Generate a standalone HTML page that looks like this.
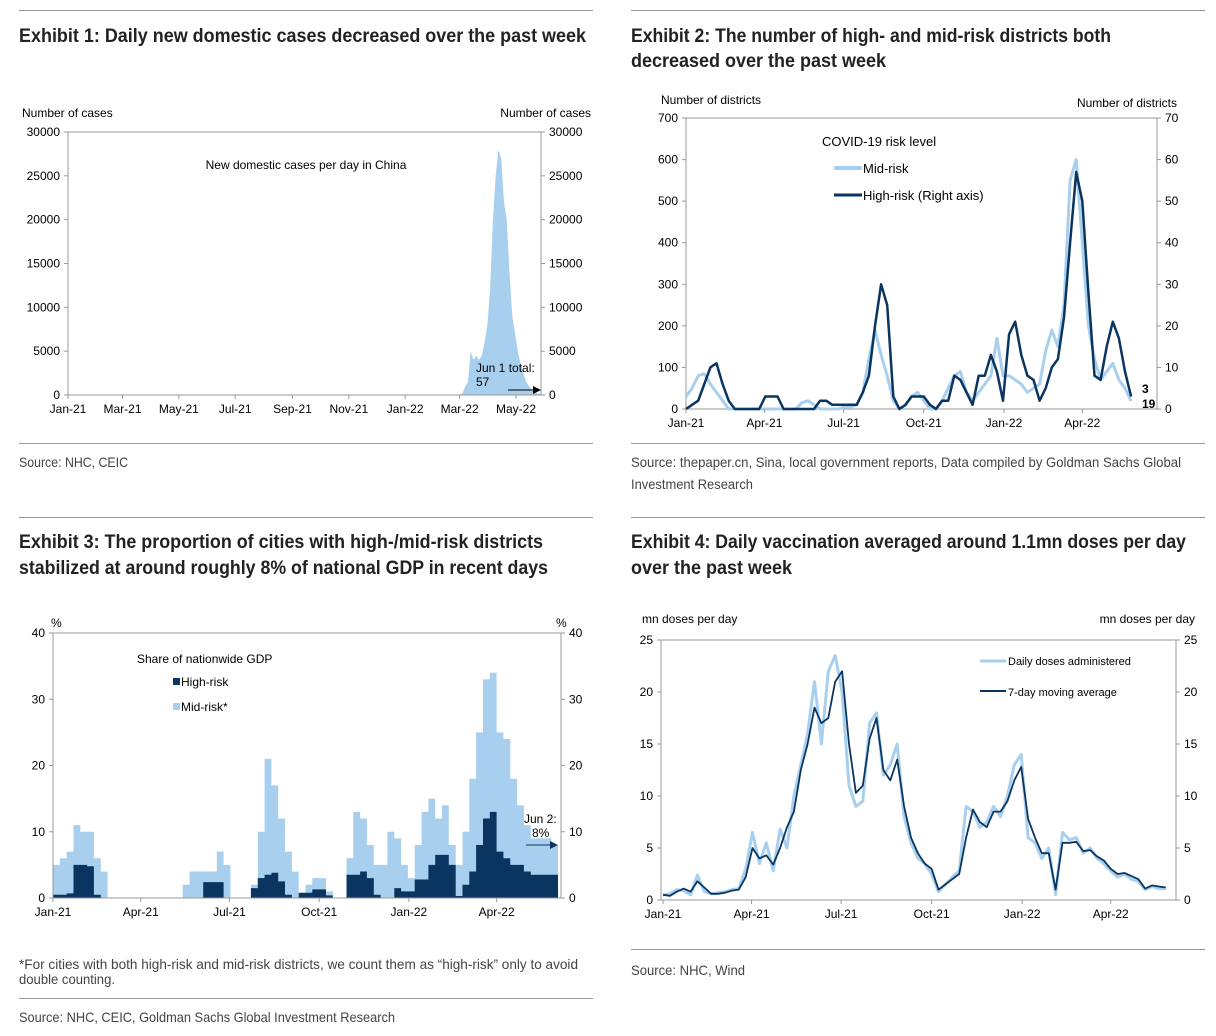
<!DOCTYPE html>
<html><head><meta charset="utf-8"><style>
body{margin:0;background:#fff;width:1216px;height:1036px;overflow:hidden}
svg{display:block}
text{font-family:"Liberation Sans",sans-serif;fill:#000}
.t{font-family:"Liberation Sans Narrow","Liberation Sans",sans-serif;font-weight:bold;font-size:19px;fill:#222}
.s{font-family:"Liberation Sans Narrow","Liberation Sans",sans-serif;font-size:14px;fill:#444}
</style></head><body>
<svg id="svg" width="1216" height="1036" xmlns="http://www.w3.org/2000/svg">
<g stroke="#999" stroke-width="1">
<line x1="19" y1="10.5" x2="593" y2="10.5"/><line x1="631" y1="10.5" x2="1205" y2="10.5"/>
<line x1="19" y1="443.5" x2="593" y2="443.5"/><line x1="631" y1="443.5" x2="1205" y2="443.5"/>
<line x1="19" y1="517.5" x2="593" y2="517.5"/><line x1="631" y1="517.5" x2="1205" y2="517.5"/>
<line x1="19" y1="998.5" x2="593" y2="998.5"/><line x1="631" y1="949.5" x2="1205" y2="949.5"/>
</g>
<text class="t" x="19" y="42" textLength="567" lengthAdjust="spacingAndGlyphs">Exhibit 1: Daily new domestic cases decreased over the past week</text>
<text class="t" x="631" y="42" textLength="480" lengthAdjust="spacingAndGlyphs">Exhibit 2: The number of high- and mid-risk districts both</text>
<text class="t" x="631" y="67" textLength="255" lengthAdjust="spacingAndGlyphs">decreased over the past week</text>
<text class="t" x="19" y="548" textLength="524" lengthAdjust="spacingAndGlyphs">Exhibit 3: The proportion of cities with high-/mid-risk districts</text>
<text class="t" x="19" y="574" textLength="529" lengthAdjust="spacingAndGlyphs">stabilized at around roughly 8% of national GDP in recent days</text>
<text class="t" x="631" y="548" textLength="555" lengthAdjust="spacingAndGlyphs">Exhibit 4: Daily vaccination averaged around 1.1mn doses per day</text>
<text class="t" x="631" y="574" textLength="161" lengthAdjust="spacingAndGlyphs">over the past week</text>
<text class="s" x="19" y="467" textLength="109" lengthAdjust="spacingAndGlyphs">Source: NHC, CEIC</text>
<text class="s" x="631" y="467" textLength="550" lengthAdjust="spacingAndGlyphs">Source: thepaper.cn, Sina, local government reports, Data compiled by Goldman Sachs Global</text>
<text class="s" x="631" y="489" textLength="122" lengthAdjust="spacingAndGlyphs">Investment Research</text>
<text class="s" x="19" y="969" textLength="559" lengthAdjust="spacingAndGlyphs">*For cities with both high-risk and mid-risk districts, we count them as “high-risk” only to avoid</text>
<text class="s" x="19" y="984" textLength="96" lengthAdjust="spacingAndGlyphs">double counting.</text>
<text class="s" x="19" y="1022" textLength="376" lengthAdjust="spacingAndGlyphs">Source: NHC, CEIC, Goldman Sachs Global Investment Research</text>
<text class="s" x="631" y="975" textLength="114" lengthAdjust="spacingAndGlyphs">Source: NHC, Wind</text>
</svg>
<script>
// Chart 1: daily cases, every 3 days from Mar 1 2022 (day 424)
const c1Start = 424;
const c1Step = 3;
const c1Cases = [0,200,1000,1500,5000,4000,4500,4000,4500,6000,8000,12000,20000,25000,28000,27000,22000,20000,14000,9000,7000,5000,3500,2500,1500,1000,600,400,200,120,80,57];
const c1Ticks = [0,5000,10000,15000,20000,25000,30000];
const c1MonthDays = [0,59,120,181,243,304,365,424,485];
const c1MonthLabels = ["Jan-21","Mar-21","May-21","Jul-21","Sep-21","Nov-21","Jan-22","Mar-22","May-22"];
// Chart 2: weekly
const c2Mid = [30,50,80,85,60,40,20,0,0,0,0,0,0,0,0,0,0,0,0,15,20,10,0,0,0,0,5,5,10,40,120,190,130,80,20,0,10,30,40,20,0,0,20,50,80,90,40,20,40,60,80,170,80,80,70,60,40,50,60,140,190,150,250,550,600,400,200,120,70,90,110,70,50,19];
const c2High = [0,1,2,6,10,11,6,2,0,0,0,0,0,3,3,3,0,0,0,0,0,0,2,2,1,1,1,1,1,4,8,20,30,25,3,0,1,3,3,3,1,0,2,2,8,7,4,1,8,8,13,9,2,18,21,13,8,7,2,5,10,12,22,40,57,50,28,8,7,15,21,17,9,3];
const c2LeftTicks = [0,100,200,300,400,500,600,700];
const c2RightTicks = [0,10,20,30,40,50,60,70];
const c2MonthDays = [0,90,181,273,365,455];
const c2MonthLabels = ["Jan-21","Apr-21","Jul-21","Oct-21","Jan-22","Apr-22"];
// Chart 3: weekly
const c3Total = [5,6,7,11,10,10,6,4,0,0,0,0,0,0,0,0,0,0,0,2,4,4,4,4,7,5,0,0,0,2,10,21,17,12,7,4,0,2,3,3,1,0,0,6,13,12,8,5,5,10,9,5,3,8,13,15,12,14,8,5,10,18,25,33,34,25,24,18,14,11,9,9,9,8];
const c3High = [0.5,0.5,0.7,5,5,4.8,0.5,0,0,0,0,0,0,0,0,0,0,0,0,0,0,0,2.4,2.4,2.4,0,0,0,0,1.5,3,3.5,3.8,2.5,0.5,0,0.8,0.8,1.3,1.3,0.4,0,0,3.5,3.5,4,3,0.5,0,0,1.5,1,1,2.8,2.8,5,6.5,6.5,5,0.3,2,4,8,12,13,7,6,5,5,4,3.5,3.5,3.5,3.5];
const c3Ticks = [0,10,20,30,40];
const c3MonthDays = [0,90,181,273,365,455];
const c3MonthLabels = ["Jan-21","Apr-21","Jul-21","Oct-21","Jan-22","Apr-22"];
// Chart 4: weekly
const c4MA = [0.5,0.4,0.8,1.1,0.8,1.8,1.2,0.6,0.6,0.7,0.9,1.0,2.2,5.0,4.0,4.3,3.4,5.0,7.0,8.5,12.5,15,18.5,17,17.5,21,22,15,10.3,11,15.5,17.5,12.5,11.5,13.5,9,6,4.5,3.5,3,1,1.5,2,2.5,6,8.7,7.5,7,8.5,8.5,9.5,11.5,12.8,7.8,6,4.5,4.5,1,5.5,5.5,5.6,4.7,4.8,4.2,3.8,3.0,2.5,2.6,2.3,2.0,1.1,1.4,1.3,1.2];
const c4Daily = [0.5,0.6,1,0.9,0.5,2.4,0.8,0.6,0.7,0.8,1,1.1,3,6.5,3.5,5.5,2.8,6.8,5,10,13,16,21,15,22,23.5,20,11,9,9.5,17,18,12,13,15,8,5.5,4,3.5,2.5,0.8,1.5,2.2,2.8,9,8.5,7,7.5,9,8,10,13,14,6,5.5,4,5,0.5,6.5,5.8,6,4.5,5,4,3.5,2.8,2.2,2.5,2,1.8,1,1.3,1.1,1.1];
const c4Ticks = [0,5,10,15,20,25];
const c4MonthDays = [0,90,181,273,365,455];
const c4MonthLabels = ["Jan-21","Apr-21","Jul-21","Oct-21","Jan-22","Apr-22"];

const NS="http://www.w3.org/2000/svg";
const svg=document.getElementById('svg');
function mk(tag,attrs,parent){const e=document.createElementNS(NS,tag);for(const k in attrs)e.setAttribute(k,attrs[k]);(parent||svg).appendChild(e);return e;}
function txt(s,x,y,anchor,parent,size,fill){const e=mk('text',{x:x,y:y,'text-anchor':anchor||'start','font-size':size||12},parent);if(fill)e.setAttribute('fill',fill);e.textContent=s;return e;}
const LIGHT="#a8d0ee", DARK="#0b3561";

function frame(g,L,R,T,B){
  mk('rect',{x:L,y:T,width:R-L,height:B-T,fill:'none',stroke:'#999','stroke-width':1},g);
}
function yAxes(g,ticks,L,R,yf,rightTicks,yr){
  ticks.forEach(v=>{const t=txt(String(v),L-8,yf(v)+4,'end',g);
    
    
    mk('line',{x1:L-4,x2:L,y1:yf(v),y2:yf(v),stroke:'#999'},g);});
  (rightTicks||ticks).forEach(v=>{const t=txt(String(v),R+8,(yr||yf)(v)+4,'start',g);
    
    
    mk('line',{x1:R,x2:R+4,y1:(yr||yf)(v),y2:(yr||yf)(v),stroke:'#999'},g);});
}
function xAxis(g,days,labels,xf,B){
  days.forEach((d,i)=>{const t=txt(labels[i],xf(d),B+18,'middle',g);
    
    
    mk('line',{x1:xf(d),x2:xf(d),y1:B,y2:B+4,stroke:'#999'},g);});
}
function linePath(vals,xf,yf){return vals.map((v,i)=>(i?'L':'M')+xf(i*7).toFixed(1)+' '+yf(v).toFixed(1)).join(' ');}
function stepArea(vals,xf,yf,B){let p='M'+xf(0)+' '+B;vals.forEach((v,i)=>{p+=' L'+xf(i*7).toFixed(1)+' '+yf(v).toFixed(1)+' L'+xf(i*7+7).toFixed(1)+' '+yf(v).toFixed(1);});p+=' L'+xf(vals.length*7)+' '+B+' Z';return p;}

// ---------- Chart 1
(function(){
  const L=68,R=541,T=132,B=395;
  const g=mk('g',{});
  
  
  const xf=d=>L+d*0.9237, yf=v=>B-v*(B-T)/30000;
  let p='M'+xf(c1Start)+' '+B;
  c1Cases.forEach((v,i)=>{p+=' L'+xf(c1Start+i*c1Step).toFixed(1)+' '+yf(v).toFixed(1);});
  p+=' L'+xf(c1Start+(c1Cases.length-1)*c1Step)+' '+B+' Z';
  const a=mk('path',{d:p,fill:LIGHT},g);
  
  
  frame(g,L,R,T,B);
  yAxes(g,c1Ticks,L,R,yf);
  xAxis(g,c1MonthDays,c1MonthLabels,xf,B);
  txt('Number of cases',22,117,'start',g);
  txt('Number of cases',591,117,'end',g);
  txt('New domestic cases per day in China',306,169,'middle',g);
  txt('Jun 1 total:',476,372,'start',g,12,'#e0102a');
  txt('57',476,386,'start',g,12,'#e0102a');
  mk('line',{x1:508,y1:390,x2:535,y2:390,stroke:'#000','stroke-width':1},g);
  mk('path',{d:'M541 390 L533 386 L533 394 Z',fill:'#000'},g);
})();

// ---------- Chart 2
(function(){
  const L=686,R=1157,T=118,B=409;
  const g=mk('g',{});
  
  
  const xf=d=>L+d*0.871, yl=v=>B-v*(B-T)/700, yr=v=>B-v*(B-T)/70;
  frame(g,L,R,T,B);
  const m=mk('path',{d:linePath(c2Mid,xf,yl),fill:'none',stroke:LIGHT,'stroke-width':3,'stroke-linejoin':'round'},g);
  
  
  const h=mk('path',{d:linePath(c2High,xf,yr),fill:'none',stroke:DARK,'stroke-width':2.5,'stroke-linejoin':'round'},g);
  
  
  yAxes(g,c2LeftTicks,L,R,yl,c2RightTicks,yr);
  xAxis(g,c2MonthDays,c2MonthLabels,xf,B);
  txt('Number of districts',661,104,'start',g);
  txt('Number of districts',1177,107,'end',g);
  txt('COVID-19 risk level',822,146,'start',g,13);
  mk('line',{x1:834,x2:862,y1:168,y2:168,stroke:LIGHT,'stroke-width':4},g);
  txt('Mid-risk',863,173,'start',g,13);
  mk('line',{x1:834,x2:862,y1:195,y2:195,stroke:DARK,'stroke-width':3},g);
  txt('High-risk (Right axis)',863,200,'start',g,13);
  txt('3',1142,393,'start',g,12,DARK).setAttribute('font-weight','bold');
  txt('19',1142,408,'start',g,12,'#8fb8dc').setAttribute('font-weight','bold');
})();

// ---------- Chart 3
(function(){
  const L=53,R=561,T=633,B=898;
  const g=mk('g',{});
  
  
  const xf=d=>L+d*0.975, yf=v=>B-v*(B-T)/40;
  const a=mk('path',{d:stepArea(c3Total,xf,yf,B),fill:LIGHT},g);
  
  
  const b=mk('path',{d:stepArea(c3High,xf,yf,B),fill:DARK},g);
  
  
  frame(g,L,R,T,B);
  yAxes(g,c3Ticks,L,R,yf);
  xAxis(g,c3MonthDays,c3MonthLabels,xf,B);
  txt('%',51,627,'start',g);
  txt('%',556,627,'start',g);
  txt('Share of nationwide GDP',137,663,'start',g);
  mk('rect',{x:173,y:678,width:7,height:7,fill:DARK},g);
  txt('High-risk',181,686,'start',g);
  mk('rect',{x:173,y:703,width:7,height:7,fill:LIGHT},g);
  txt('Mid-risk*',181,711,'start',g);
  txt('Jun 2:',524,823,'start',g,12,'#e0102a');
  txt('8%',532,837,'start',g,12,'#e0102a');
  mk('line',{x1:526,y1:845,x2:552,y2:845,stroke:DARK,'stroke-width':1},g);
  mk('path',{d:'M558 845 L550 841 L550 849 Z',fill:DARK},g);
})();

// ---------- Chart 4
(function(){
  const L=661,R=1176,T=640,B=900;
  const g=mk('g',{});
  
  
  const xf=d=>663+d*0.984, yf=v=>B-v*(B-T)/25;
  frame(g,L,R,T,B);
  const a=mk('path',{d:linePath(c4Daily,xf,yf),fill:'none',stroke:LIGHT,'stroke-width':3,'stroke-linejoin':'round'},g);
  
  
  const b=mk('path',{d:linePath(c4MA,xf,yf),fill:'none',stroke:DARK,'stroke-width':1.8,'stroke-linejoin':'round'},g);
  
  
  yAxes(g,c4Ticks,L,R,yf);
  xAxis(g,c4MonthDays,c4MonthLabels,xf,B);
  txt('mn doses per day',642,623,'start',g);
  txt('mn doses per day',1195,623,'end',g);
  mk('line',{x1:980,x2:1006,y1:661,y2:661,stroke:LIGHT,'stroke-width':3},g);
  txt('Daily doses administered',1008,665,'start',g,11);
  mk('line',{x1:980,x2:1006,y1:691,y2:691,stroke:DARK,'stroke-width':2},g);
  txt('7-day moving average',1008,696,'start',g,11);
})();
</script>
</body></html>
